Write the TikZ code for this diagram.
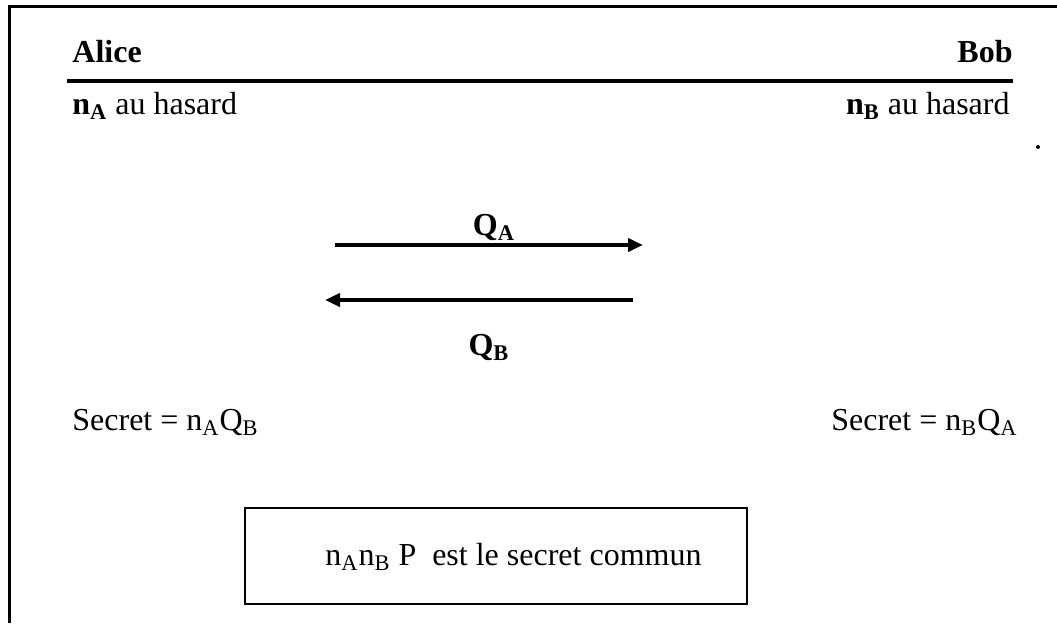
\documentclass[tikz,border=0pt]{standalone}
\usepackage{fontspec}
\setmainfont{Liberation Serif}
\usetikzlibrary{arrows.meta}

\begin{document}
\begin{tikzpicture}[x=0.5pt,y=-0.5pt,
	txt/.style={inner sep=0pt,font=\fontsize{16}{19}\selectfont},
	msg/.style={line width=2pt,-{Triangle[length=7.5pt,width=6.5pt]}}]
	\useasboundingbox (0,0) rectangle (1057,623);
	% frame and header
	\draw[line width=1.5pt] (9,623) -- (9,6) -- (1057,6);
	\node[txt,anchor=base west] (alice) at (72,62) {\textbf{Alice}};
	\node[txt,anchor=base east] (bob) at (1013,62) {\textbf{Bob}};
	\coordinate (rl) at (67,81);
	\coordinate (rr) at (1013,81);
	\draw[line width=2.2pt] (rl) -- (rr);
	\node[txt,anchor=base west] (na) at (72,114) {\textbf{n\textsubscript{A}} au hasard};
	\node[txt,anchor=base east] (nb) at (1010,114) {\textbf{n\textsubscript{B}} au hasard};
	\fill (1038,147) circle (2);

	% exchange of the public points
	\coordinate (a1) at (335,245);
	\coordinate (b1) at (643,245);
	\coordinate (b2) at (633,300);
	\coordinate (a2) at (325,300);
	\draw[msg] (a1) -- (b1);
	\draw[msg] (b2) -- (a2);
	\node[txt,anchor=base] (qa) at (494,235) {\textbf{Q\textsubscript{A}}};
	\node[txt,anchor=base] (qb) at (489,355) {\textbf{Q\textsubscript{B}}};

	% shared secret
	\node[txt,anchor=base west] (sa) at (72,430) {Secret = n\textsubscript{A}Q\textsubscript{B}};
	\node[txt,anchor=base east] (sb) at (1018,430) {Secret = n\textsubscript{B}Q\textsubscript{A}};
	\draw[line width=1.3pt] (245,508) rectangle (747,604);
	\node[txt,anchor=base west] (common) at (325,565) {n\textsubscript{A}n\textsubscript{B} P\ \ est le secret commun};
\end{tikzpicture}
\end{document}
